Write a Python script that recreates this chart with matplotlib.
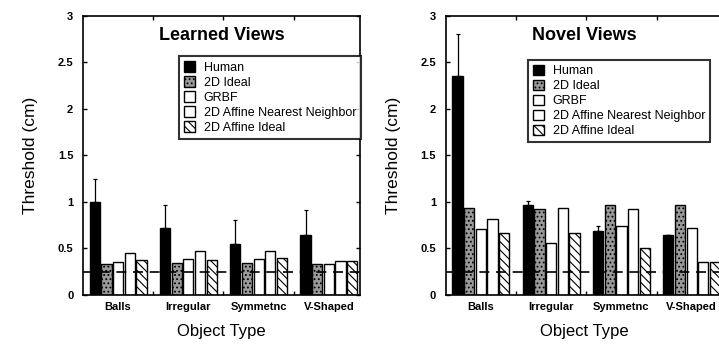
import matplotlib
matplotlib.use("Agg")
import matplotlib.pyplot as plt
import numpy as np

plt.rcParams['font.family'] = ['Liberation Sans', 'DejaVu Sans']
plt.rcParams['hatch.linewidth'] = 0.8

categories = ["Balls", "Irregular", "Symmetnc", "V-Shaped"]
series = ["Human", "2D Ideal", "GRBF", "2D Affine Nearest Neighbor", "2D Affine Ideal"]

learned_human = [1.00, 0.72, 0.55, 0.65]
learned_human_err_top = [1.25, 0.97, 0.81, 0.91]
learned_2d_ideal = [0.33, 0.34, 0.34, 0.33]
learned_grbf = [0.35, 0.39, 0.39, 0.33]
learned_ann = [0.45, 0.47, 0.47, 0.36]
learned_affine_ideal = [0.38, 0.38, 0.40, 0.36]

novel_human = [2.35, 0.97, 0.69, 0.64]
novel_human_err_top = [2.80, 1.01, 0.74, 0.65]
novel_2d_ideal = [0.93, 0.92, 0.97, 0.97]
novel_grbf = [0.71, 0.56, 0.74, 0.72]
novel_ann = [0.82, 0.94, 0.92, 0.35]
novel_affine_ideal = [0.67, 0.67, 0.50, 0.35]

baseline = 0.25
yticks = [0, 0.5, 1, 1.5, 2, 2.5, 3]
yticklabels = ["0", "0.5", "1", "1.5", "2", "2.5", "3"]

styles = [
    dict(facecolor="black", edgecolor="black", hatch=None),
    dict(facecolor="#9a9a9a", edgecolor="black", hatch="...."),
    dict(facecolor="white", edgecolor="black", hatch=None),
    dict(facecolor="white", edgecolor="black", hatch=None),
    dict(facecolor="white", edgecolor="black", hatch="\\\\\\\\"),
]

fig = plt.figure(figsize=(7.19, 3.45), dpi=100)
ax1 = fig.add_axes([0.1154, 0.145, 0.385, 0.809])
ax2 = fig.add_axes([0.620, 0.145, 0.385, 0.809])

def draw(ax, title, data, err_top, legend_kw):
    x = np.arange(len(categories))
    w = 0.145
    s = 0.166
    handles = []
    for i, (vals, st) in enumerate(zip(data, styles)):
        b = ax.bar(x + (i - 2) * s, vals, w, facecolor=st["facecolor"],
                   edgecolor=st["edgecolor"], hatch=st["hatch"], linewidth=1.0,
                   label=series[i], zorder=2)
        handles.append(b)
    hum = np.array(data[0])
    up = np.array(err_top) - hum
    ax.errorbar(x - 2 * s, hum, yerr=[np.zeros_like(up), up], fmt="none",
                ecolor="black", elinewidth=0.9, capsize=1.5, capthick=0.9, zorder=3)
    ax.axhline(baseline, color="black", linestyle=(0, (6, 4)), linewidth=1.2, zorder=4)
    ax.set_xlim(-0.5, 3.44)
    ax.set_ylim(0, 3)
    ax.set_yticks(yticks)
    ax.set_yticklabels(yticklabels, fontsize=8, fontweight="bold")
    ax.set_xticks([0.5, 1.5, 2.5])
    ax.set_xticklabels([])
    ax.set_xticks(x, minor=True)
    ax.set_xticklabels(categories, minor=True, fontsize=8, fontweight="bold")
    ax.tick_params(axis="x", which="minor", length=0, pad=5)
    ax.tick_params(axis="both", which="major", direction="in", length=3, width=1,
                   top=True, right=True)
    ax.tick_params(axis="y", pad=7)
    for sp in ax.spines.values():
        sp.set_linewidth(1.2)
    ax.text(0.5, 0.93, title, transform=ax.transAxes, ha="center", va="center",
            fontsize=13, fontweight="bold")
    ax.set_ylabel("Threshold (cm)", fontsize=12.5, labelpad=14)
    ax.set_xlabel("Object Type", fontsize=12, labelpad=9)
    leg = ax.legend(handles=handles, frameon=True, fancybox=False,
                    handlelength=0.9, handleheight=0.9, handletextpad=0.7,
                    labelspacing=0.2, borderpad=0.4, borderaxespad=0,
                    prop=dict(size=9), **legend_kw)
    leg.get_frame().set_edgecolor("black")
    leg.get_frame().set_linewidth(1.5)

draw(ax1, "Learned Views",
     [learned_human, learned_2d_ideal, learned_grbf, learned_ann, learned_affine_ideal],
     learned_human_err_top, dict(loc="upper right", bbox_to_anchor=(1.005, 0.855)))
draw(ax2, "Novel Views",
     [novel_human, novel_2d_ideal, novel_grbf, novel_ann, novel_affine_ideal],
     novel_human_err_top, dict(loc="upper left", bbox_to_anchor=(0.296, 0.842)))

fig.savefig("out.png", dpi=100)
